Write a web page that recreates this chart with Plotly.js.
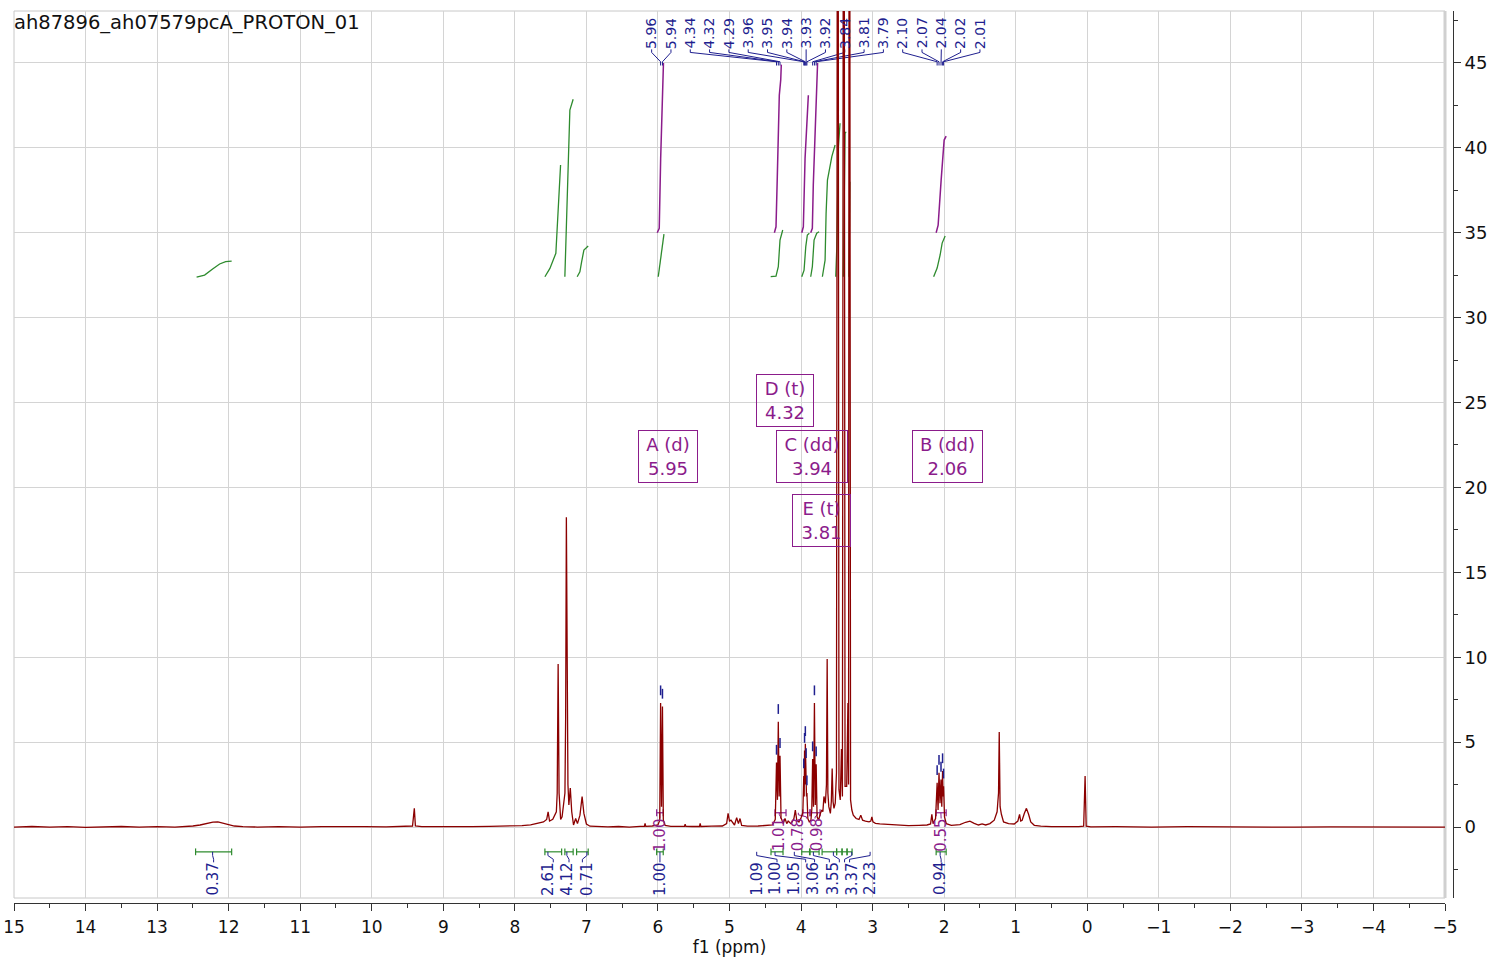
<!DOCTYPE html>
<html><head><meta charset="utf-8">
<script src="https://cdn.plot.ly/plotly-3.0.1.min.js"></script>
<style>html,body{margin:0;padding:0;background:#fff}#plot{width:1495px;height:957px}</style>
</head><body><div id="plot"></div>
<script>
// ---------------- data ----------------
const chartTitle = "ah87896_ah07579pcA_PROTON_01";

const specPpm = [
  15.00, 14.75, 14.50, 14.25, 14.00, 13.75, 13.50, 13.25, 13.00, 12.75, 12.60,
  12.50, 12.40, 12.30, 12.22, 12.15, 12.08, 12.00, 11.92, 11.80,
  11.60, 11.30, 11.00, 10.70, 10.40, 10.10, 9.80, 9.55, 9.43, 9.405, 9.39, 9.30,
  9.10, 8.85, 8.60, 8.35, 8.10, 7.90, 7.78, 7.68, 7.60, 7.555, 7.535, 7.515,
  7.47, 7.42, 7.408, 7.395, 7.382, 7.36, 7.34, 7.300, 7.290, 7.280, 7.270, 7.258, 7.245, 7.225, 7.205,
  7.18, 7.15, 7.125, 7.09, 7.06, 7.035, 7.00, 6.95, 6.85,
  6.70, 6.55, 6.40, 6.25, 6.19, 6.18, 6.17, 6.08, 6.00, 5.975,
  5.963, 5.950, 5.937, 5.925, 5.90, 5.82, 5.72, 5.63, 5.62, 5.61, 5.52,
  5.42, 5.41, 5.40, 5.25, 5.10, 5.04, 5.02, 5.00, 4.98, 4.93, 4.90, 4.875, 4.853, 4.83, 4.75,
  4.60, 4.48, 4.40, 4.36, 4.343, 4.330, 4.318, 4.306, 4.294, 4.28, 4.25, 4.224, 4.20, 4.18, 4.14,
  4.10, 4.08, 4.06, 4.03, 4.00, 3.975,
  3.962, 3.956, 3.951, 3.946, 3.940, 3.935, 3.929, 3.924, 3.918, 3.905, 3.885, 3.862, 3.850,
  3.838, 3.826, 3.813, 3.801, 3.789, 3.776, 3.755, 3.73, 3.71, 3.695, 3.68, 3.66, 3.645,
  3.635, 3.625, 3.612, 3.59, 3.577, 3.565, 3.553, 3.54, 3.522, 3.505, 3.487, 3.470, 3.452,
  3.435, 3.422, 3.403, 3.385, 3.362, 3.345, 3.336, 3.325, 3.308, 3.29, 3.27, 3.23,
  3.19, 3.165, 3.14, 3.10, 3.05, 3.025, 3.01, 2.995, 2.96, 2.90, 2.80, 2.65, 2.50, 2.35,
  2.24, 2.19, 2.172, 2.155, 2.12, 2.098, 2.085, 2.072, 2.058, 2.044, 2.033, 2.022, 2.015, 2.008, 1.995, 1.97,
  1.90, 1.78, 1.70, 1.64, 1.58, 1.52, 1.47, 1.42, 1.36, 1.30, 1.26, 1.24, 1.23, 1.218, 1.20, 1.17, 1.10,
  1.02, 0.97, 0.946, 0.93, 0.91, 0.88, 0.85, 0.82, 0.79, 0.74, 0.65,
  0.50, 0.30, 0.12, 0.05, 0.03, 0.015, -0.05, -0.40, -0.90, -1.40, -1.90, -2.40, -2.90, -3.40, -3.90, -4.40, -5.00
];
const specInt = [
  0.00, 0.03, -0.01, 0.02, -0.02, 0.01, 0.03, -0.01, 0.02, 0.00, 0.03,
  0.06, 0.12, 0.22, 0.29, 0.30, 0.24, 0.14, 0.06, 0.02,
  0.00, 0.02, -0.01, 0.02, 0.00, 0.02, 0.01, 0.03, 0.06, 1.10, 0.06, 0.02,
  0.01, 0.03, 0.02, 0.04, 0.06, 0.08, 0.13, 0.20, 0.30, 0.45, 0.90, 0.35,
  0.45, 0.90, 2.00, 9.60, 2.00, 0.45, 0.60, 2.00, 6.50, 18.25, 6.50, 2.50, 1.30, 2.30, 0.90,
  0.12, 0.50, 0.20, 0.70, 1.80, 0.80, 0.18, 0.05, 0.03,
  0.01, 0.03, 0.00, 0.04, 0.04, 0.22, 0.04, 0.06, 0.12, 0.40,
  7.30, 1.20, 7.10, 0.40, 0.10, 0.04, 0.05, 0.04, 0.16, 0.04, 0.03,
  0.03, 0.22, 0.03, 0.05, 0.06, 0.20, 0.80, 0.35, 0.40, 0.12, 0.55, 0.20, 0.50, 0.10, 0.05,
  0.06, 0.08, 0.12, 0.45, 3.80, 1.60, 6.20, 1.80, 4.20, 0.55, 0.20, 0.50, 0.20, 0.35, 0.20,
  0.50, 1.00, 0.40, 0.30, 0.55, 0.85,
  3.00, 1.80, 4.50, 2.50, 4.90, 2.50, 3.60, 1.80, 2.00, 0.50, 0.30, 0.40, 1.00,
  4.00, 1.20, 7.30, 1.30, 3.70, 0.60, 0.40, 0.80, 1.00, 0.90, 1.80, 1.40, 2.50,
  9.90, 2.00, 1.20, 0.80, 1.50, 3.45, 1.50, 1.10, 1.40, 3.20, 85.0, 2.20, 1.60,
  4.60, 1.80, 85.0, 2.40, 2.40, 7.30, 2.50, 85.0, 1.60, 1.00, 0.70, 0.50,
  0.45, 0.70, 0.40, 0.35, 0.30, 0.35, 0.60, 0.30, 0.22, 0.18, 0.15, 0.10, 0.08, 0.10,
  0.12, 0.18, 0.75, 0.20, 0.50, 2.60, 1.00, 3.20, 1.40, 2.80, 1.20, 3.30, 1.80, 2.40, 0.60, 0.20,
  0.10, 0.14, 0.28, 0.35, 0.22, 0.12, 0.18, 0.12, 0.20, 0.40, 0.90, 2.00, 5.60, 1.20, 0.75, 0.30, 0.20,
  0.18, 0.35, 0.75, 0.35, 0.40, 0.80, 1.10, 0.75, 0.30, 0.10, 0.05,
  0.02, 0.00, 0.02, 0.05, 3.00, 0.05, 0.01, 0.02, -0.01, 0.02, 0.00, 0.02, -0.01, 0.01, 0.02, -0.01, 0.00
];

// picked peaks (top labels)
const peakPpm    = [5.963, 5.937, 4.343, 4.318, 4.294, 3.962, 3.951, 3.940, 3.929, 3.918, 3.838, 3.813, 3.789, 2.098, 2.072, 2.044, 2.022, 2.008];
const peakHeight = [7.30, 7.10, 3.80, 6.20, 4.20, 3.00, 4.50, 4.90, 3.60, 2.00, 4.00, 7.30, 3.70, 2.60, 3.20, 2.80, 3.30, 2.40];
const peakLabels = ["5.96","5.94","4.34","4.32","4.29","3.96","3.95","3.94","3.93","3.92","3.84","3.81","3.79","2.10","2.07","2.04","2.02","2.01"];

// integrals (green)
const integralFrom   = [12.462, 7.580, 7.301, 7.137, 6.018, 4.420, 3.990, 3.874, 3.706, 3.503, 3.427, 3.357, 2.112];
const integralTo     = [11.958, 7.346, 7.185, 6.975, 5.926, 4.252, 3.881, 3.748, 3.503, 3.427, 3.357, 3.287, 1.972];
const integralValues = ["0.37","2.61","4.12","0.71","1.00","1.09","1.00","1.05","3.06","3.55","3.37","2.23","0.94"];
const integralCurves = [
  [[12.448,32.39],[12.336,32.51],[12.224,32.86],[12.126,33.16],[12.042,33.30],[11.958,33.33]],
  [[7.580,32.41],[7.510,32.90],[7.427,33.79],[7.408,35.55],[7.380,38.10],[7.361,38.99]],
  [[7.301,32.41],[7.245,41.34],[7.231,42.23],[7.185,42.86]],
  [[7.129,32.41],[7.091,32.70],[7.067,33.29],[7.035,33.98],[6.975,34.22]],
  [[5.996,32.41],[5.982,32.80],[5.948,33.98],[5.916,34.92]],
  [[4.424,32.41],[4.350,32.45],[4.318,33.00],[4.294,34.57],[4.256,35.16]],
  [[3.990,32.41],[3.958,32.80],[3.934,34.18],[3.912,34.87],[3.884,34.97]],
  [[3.865,32.41],[3.842,33.00],[3.818,34.57],[3.781,34.97],[3.748,35.06]],
  [[3.702,32.41],[3.664,33.39],[3.650,36.14],[3.631,38.10],[3.570,39.48],[3.524,40.17]],
  [[3.515,32.41],[3.500,34.18],[3.478,40.07],[3.455,41.45]],
  [[3.409,32.41],[3.399,36.14],[3.385,40.85],[3.371,40.95]],
  [[3.330,32.41],[3.318,38.00]],
  [[2.147,32.41],[2.098,32.92],[2.056,33.69],[2.028,34.39],[1.986,34.81]]
];

// multiplets (purple)
const multipletNames     = ["A (d)", "D (t)", "C (dd)", "E (t)", "B (dd)"];
const multipletShifts    = ["5.95", "4.32", "3.94", "3.81", "2.06"];
const multipletFrom      = [6.018, 4.364, 3.976, 3.874, 2.112];
const multipletTo        = [5.926, 4.210, 3.874, 3.734, 1.972];
const multipletIntegrals = ["1.00", "1.01", "0.78", "0.98", "0.55"];
const multipletCurves = [
  [[6.010,35.00],[5.982,35.26],[5.962,39.38],[5.934,43.99],[5.923,45.00]],
  [[4.373,35.00],[4.350,35.35],[4.332,38.30],[4.304,43.10],[4.284,44.00],[4.276,44.90]],
  [[3.990,35.00],[3.968,35.35],[3.944,39.38],[3.898,43.10]],
  [[3.865,35.00],[3.842,35.26],[3.829,37.81],[3.781,43.99],[3.769,45.00]],
  [[2.112,35.00],[2.084,35.45],[2.042,38.10],[2.000,40.46],[1.972,40.69]]
];

// ---------------- layout helpers (positions/styles) ----------------
const NAVY = "#1f1f8f", PURPLE = "#8b1c8b", GREEN = "#2e8b2e", RED = "#8b0000";
const FONT = "DejaVu Sans";
const topLabelStart = 6.088, topLabelStep = 0.2699;           // evenly spread label slots (ppm)
const intLabelPos   = [12.224, 7.538, 7.273, 6.993, 5.972, 4.620, 4.364, 4.094, 3.828, 3.548, 3.291, 3.035, 2.056];
const mulLabelPos   = [5.972, 4.304, 4.038, 3.772, 2.046];
const boxPos        = [[5.856, 21.81], [4.221, 25.13], [3.843, 21.81], [3.711, 18.08], [1.958, 21.81]];
const boxWidth      = [52, 50, 64, 51, 63];

function polyTrace(list, color, width) {
  const x = [], y = [];
  list.forEach(c => { c.forEach(p => { x.push(p[0]); y.push(p[1]); }); x.push(null); y.push(null); });
  return {type:"scatter", mode:"lines", x, y, line:{color, width}, hoverinfo:"skip", showlegend:false};
}
function barTrace(from, to, yv, color) {
  const x = [], y = [], cap = 0.2;
  from.forEach((f, i) => {
    const t = to[i];
    x.push(f, f, null, f, t, null, t, t, null);
    y.push(yv - cap, yv + cap, null, yv, yv, null, yv - cap, yv + cap, null);
  });
  return {type:"scatter", mode:"lines", x, y, line:{color, width:1.2}, hoverinfo:"skip", showlegend:false};
}
function leaderTrace(anchors, labels, ys, color) {
  const x = [], y = [];
  anchors.forEach((a, i) => {
    x.push(labels[i], labels[i], a, a, null);
    y.push(ys[0], ys[1], ys[2], ys[3], null);
  });
  return {type:"scatter", mode:"lines", x, y, line:{color, width:1}, hoverinfo:"skip", showlegend:false};
}

const topLabelX = peakLabels.map((_, i) => topLabelStart - topLabelStep * i);
const intCenters = integralFrom.map((f, i) => (f + integralTo[i]) / 2);
const mulCenters = multipletFrom.map((f, i) => (f + multipletTo[i]) / 2);

const traces = [
  polyTrace(integralCurves, GREEN, 1.3),
  polyTrace(multipletCurves, PURPLE, 1.5),
  barTrace(integralFrom, integralTo, -1.46, GREEN),
  barTrace(multipletFrom, multipletTo, 0.84, PURPLE),
  leaderTrace(peakPpm, topLabelX, [45.80, 45.62, 45.07, 44.85], NAVY),
  leaderTrace(intCenters, intLabelPos, [-1.46, -1.68, -1.90, -2.08], NAVY),
  leaderTrace(mulCenters, mulLabelPos, [0.84, 0.72, 0.60, 0.50], PURPLE),
  {type:"scatter", mode:"lines", x:specPpm, y:specInt, line:{color:RED, width:1.3}, hoverinfo:"skip", showlegend:false},
  {type:"scatter", mode:"markers", x:peakPpm, y:peakHeight.map(h => h + 0.75),
   marker:{symbol:"line-ns-open", size:7, color:NAVY, line:{color:NAVY, width:1.5}}, hoverinfo:"skip", showlegend:false}
];

const annotations = [];
annotations.push({xref:"paper", yref:"paper", x:-0.0014, y:0.987, xanchor:"left", yanchor:"middle",
  text:chartTitle, showarrow:false, font:{family:FONT, size:19.5, color:"#111"}});
peakLabels.forEach((t, i) => annotations.push({x:topLabelX[i], y:46.75, xref:"x", yref:"y", text:t, textangle:-90,
  showarrow:false, xanchor:"center", yanchor:"middle", font:{family:FONT, size:14, color:NAVY}}));
integralValues.forEach((t, i) => annotations.push({x:intLabelPos[i], y:-3.06, xref:"x", yref:"y", text:t, textangle:-90,
  showarrow:false, xanchor:"center", yanchor:"middle", font:{family:FONT, size:15, color:NAVY}}));
multipletIntegrals.forEach((t, i) => annotations.push({x:mulLabelPos[i], y:-0.47, xref:"x", yref:"y", text:t, textangle:-90,
  showarrow:false, xanchor:"center", yanchor:"middle", font:{family:FONT, size:15, color:PURPLE}}));
multipletNames.forEach((n, i) => annotations.push({x:boxPos[i][0], y:boxPos[i][1], xref:"x", yref:"y",
  text:n + "<br>" + multipletShifts[i], showarrow:false, xanchor:"center", yanchor:"middle",
  width:boxWidth[i], height:45, borderpad:3, bordercolor:PURPLE, borderwidth:1, bgcolor:"rgba(0,0,0,0)",
  font:{family:FONT, size:18, color:PURPLE}}));

const layout = {
  width:1495, height:957,
  margin:{l:14, r:42, t:11, b:54, pad:0},
  paper_bgcolor:"#fff", plot_bgcolor:"#fff",
  font:{family:FONT, color:"#111"},
  showlegend:false,
  xaxis:{
    domain:[0, 1431/1439], range:[15, -5], autorange:false, anchor:"free", position:0,
    tick0:0, dtick:1, ticks:"outside", ticklen:7, tickwidth:1, tickcolor:"#333",
    showline:true, linecolor:"#333", linewidth:1,
    showgrid:true, gridcolor:"#d4d4d4", gridwidth:1, zeroline:false,
    minor:{dtick:0.5, ticks:"outside", ticklen:4, tickcolor:"#333", showgrid:false},
    ticklabelstandoff:2,
    tickfont:{family:FONT, size:17, color:"#111"},
    title:{text:"f1 (ppm)", font:{family:FONT, size:17, color:"#111"}, standoff:3}
  },
  yaxis:{
    domain:[5/892, 1], range:[-4.18, 48.06], autorange:false, side:"right", anchor:"free", position:1,
    tick0:0, dtick:5, ticks:"outside", ticklen:7, tickwidth:1, tickcolor:"#333",
    showline:true, linecolor:"#333", linewidth:1,
    showgrid:true, gridcolor:"#d4d4d4", gridwidth:1, zeroline:false,
    minor:{dtick:2.5, ticks:"outside", ticklen:4, tickcolor:"#333", showgrid:false},
    tickfont:{family:FONT, size:18, color:"#111"}
  },
  shapes:[
    {type:"rect", xref:"x domain", yref:"y domain", x0:0, x1:1, y0:0, y1:1, line:{color:"#c8c8c8", width:1}, layer:"below"},
    {type:"line", xref:"x domain", yref:"y domain", x0:1, x1:1, y0:0, y1:1, line:{color:"#d0d0d0", width:3}, layer:"below"}
  ],
  annotations
};

Plotly.newPlot("plot", traces, layout, {displayModeBar:false, staticPlot:true});
</script>
</body></html>
